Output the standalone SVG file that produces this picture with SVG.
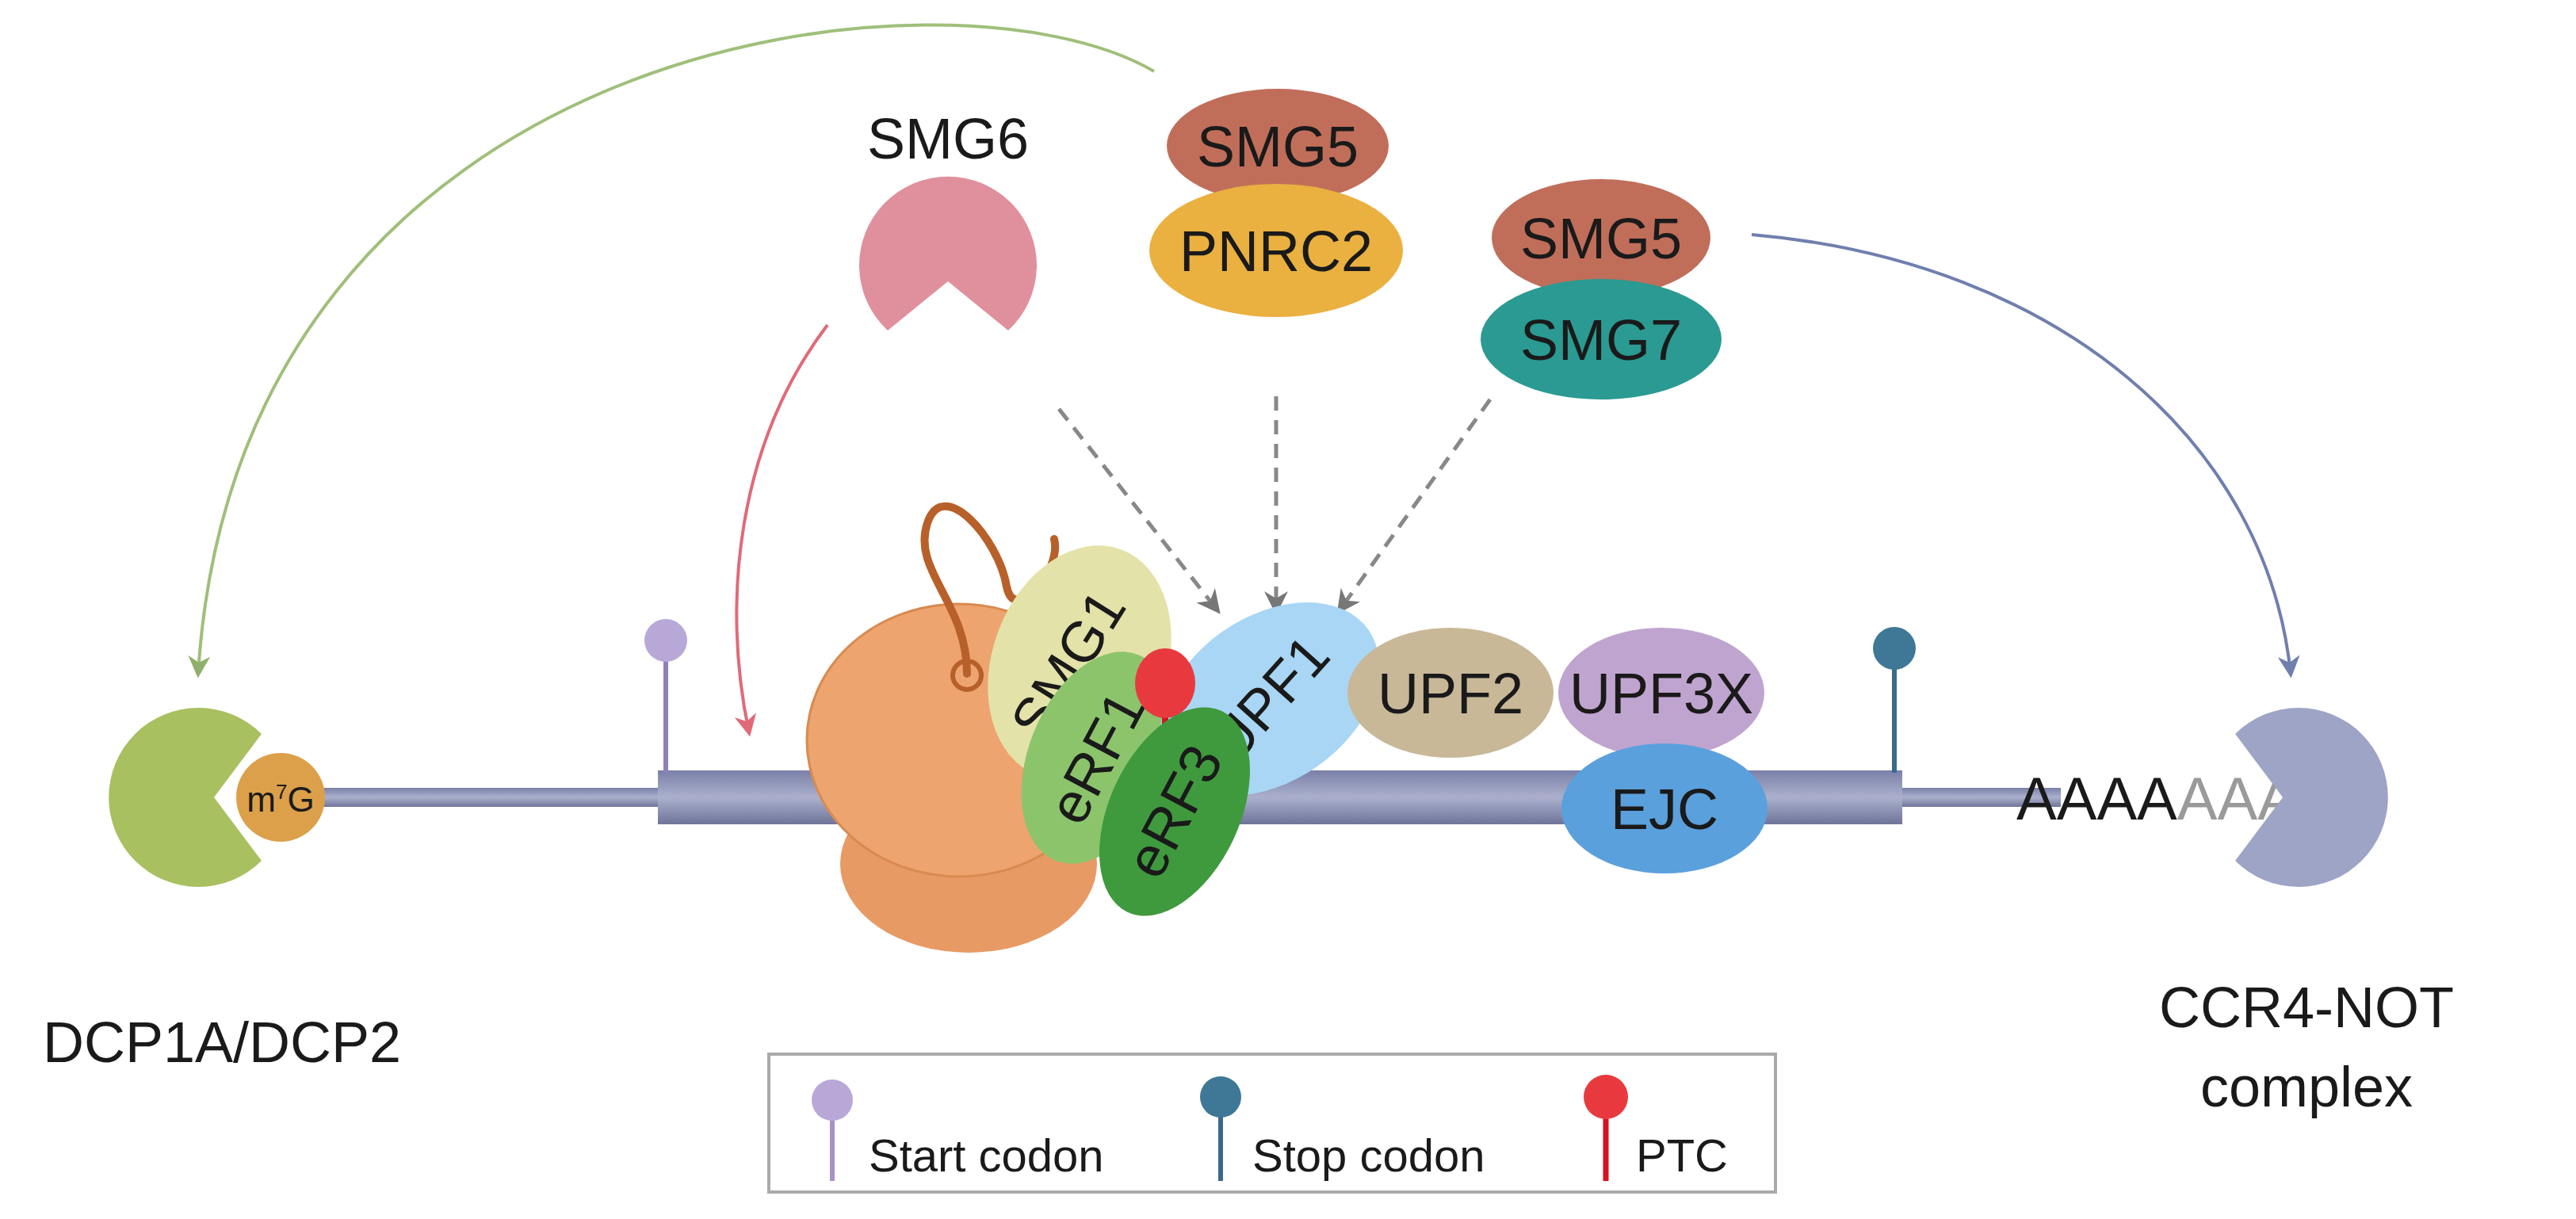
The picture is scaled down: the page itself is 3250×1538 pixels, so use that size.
<svg xmlns="http://www.w3.org/2000/svg" width="3250" height="1538" viewBox="0 0 3250 1538">
<style>
text{font-family:"Liberation Sans",Arial,sans-serif;fill:#1a1a1a;text-anchor:middle}
.lb{font-size:72px}
.dash{fill:none;stroke:#888;stroke-width:5;stroke-dasharray:18 12}
</style>
<defs>
<marker id="ag" viewBox="0 0 10 10" refX="8" refY="5" markerWidth="7" markerHeight="7" orient="auto"><path d="M0,0L10,5L0,10L3,5z" fill="#8fb06a"/></marker>
<marker id="ar" viewBox="0 0 10 10" refX="8" refY="5" markerWidth="7" markerHeight="7" orient="auto"><path d="M0,0L10,5L0,10L3,5z" fill="#e06a78"/></marker>
<marker id="ab" viewBox="0 0 10 10" refX="8" refY="5" markerWidth="7" markerHeight="7" orient="auto"><path d="M0,0L10,5L0,10L3,5z" fill="#6f7fae"/></marker>
<marker id="ad" viewBox="0 0 10 10" refX="8" refY="5" markerWidth="6" markerHeight="6" orient="auto"><path d="M0,0L10,5L0,10L3,5z" fill="#777"/></marker>
<linearGradient id="bar" x1="0" y1="0" x2="0" y2="1"><stop offset="0" stop-color="#7b80a8"/><stop offset="0.5" stop-color="#aab0cc"/><stop offset="1" stop-color="#6f7499"/></linearGradient>
</defs>

<g id="mrna">
<rect x="400" y="994" width="2200" height="24" fill="url(#bar)"/>
<rect x="830" y="972" width="1570" height="68" fill="url(#bar)"/>
</g>

<g id="connectors">
<path d="M1456,90 C1200,-60 300,40 250,850" fill="none" stroke="#9fbf7a" stroke-width="4" marker-end="url(#ag)"/>
<path d="M1044,410 C930,560 910,760 945,924" fill="none" stroke="#e06a78" stroke-width="4" marker-end="url(#ar)"/>
<path d="M2210,296 C2600,330 2860,560 2890,850" fill="none" stroke="#6f7fae" stroke-width="4" marker-end="url(#ab)"/>
<path class="dash" d="M1336,516 L1536,770" marker-end="url(#ad)"/>
<path class="dash" d="M1610,500 L1610,770" marker-end="url(#ad)"/>
<path class="dash" d="M1880,504 L1690,770" marker-end="url(#ad)"/>
</g>

<g id="dcp">
<path d="M330,926 A113,113 0 1 0 330,1086 L270,1006 Z" fill="#a8c060"/>
<circle cx="354" cy="1006" r="56" fill="#dca04a"/>
<text x="354" y="1024" style="font-size:44px">m<tspan dy="-16" style="font-size:26px">7</tspan><tspan dy="16">G</tspan></text>
<text class="lb" x="280" y="1340">DCP1A/DCP2</text>
</g>

<g id="ccr4">
<text x="2544" y="1034" style="font-size:76px;text-anchor:start">AAAA<tspan fill="#9a9a9a">AAA</tspan></text>
<path d="M2820,926 A113,113 0 1 1 2820,1086 L2880,1006 Z" fill="#9ea4c6"/>
<text class="lb" x="2910" y="1296">CCR4-NOT</text>
<text class="lb" x="2910" y="1396">complex</text>
</g>

<g id="start">
<line x1="840" y1="820" x2="840" y2="975" stroke="#9080b8" stroke-width="6"/>
<circle cx="840" cy="808" r="27" fill="#b8a8d8"/>
</g>
<g id="stop">
<line x1="2390" y1="830" x2="2390" y2="975" stroke="#3a6a8a" stroke-width="6"/>
<circle cx="2390" cy="818" r="27" fill="#3e7896"/>
</g>

<g id="ribosome">
<ellipse cx="1222" cy="1090" rx="162" ry="112" fill="#e89a64"/>
<ellipse cx="1210" cy="934" rx="192" ry="172" fill="#eda46e" stroke="#d88a50" stroke-width="3"/>
<path d="M1220,850 C1220,760 1150,720 1170,660 C1190,600 1260,680 1270,740 C1280,790 1340,720 1330,680" fill="none" stroke="#b8602a" stroke-width="10" stroke-linecap="round"/>
<circle cx="1220" cy="852" r="18" fill="none" stroke="#b8602a" stroke-width="6"/>
</g>

<g id="smg1">
<ellipse cx="1362" cy="836" rx="110" ry="152" transform="rotate(20 1362 836)" fill="#e3e2a8"/>
<text class="lb" x="1350" y="862" transform="rotate(-58 1350 840)">SMG1</text>
</g>
<g id="erf1">
<ellipse cx="1384" cy="956" rx="86" ry="140" transform="rotate(22 1384 956)" fill="#8cc46c"/>
<text class="lb" x="1384" y="980" transform="rotate(-62 1384 956)">eRF1</text>
</g>
<g id="upf1">
<line x1="1594" y1="830" x2="1594" y2="880" stroke="#c88a40" stroke-width="5"/>
<ellipse cx="1594" cy="826" rx="20" ry="26" fill="#e0a050"/>
<text x="1594" y="838" style="font-size:30px">P</text>
<ellipse cx="1602" cy="882" rx="152" ry="104" transform="rotate(-35 1602 882)" fill="#a8d6f4"/>
<text class="lb" x="1602" y="906" transform="rotate(-48 1602 882)">UPF1</text>
</g>
<g id="ptc">
<line x1="1470" y1="880" x2="1470" y2="1060" stroke="#d8121e" stroke-width="8"/>
<ellipse cx="1470" cy="862" rx="38" ry="44" fill="#e83a3e"/>
</g>
<g id="erf3">
<ellipse cx="1482" cy="1024" rx="82" ry="140" transform="rotate(25 1482 1024)" fill="#3f9a3e"/>
<text class="lb" x="1482" y="1048" transform="rotate(-62 1482 1024)">eRF3</text>
</g>
<g id="upf2">
<ellipse cx="1830" cy="874" rx="130" ry="82" fill="#c8b898"/>
<text class="lb" x="1830" y="900">UPF2</text>
</g>
<g id="upf3x">
<ellipse cx="2096" cy="874" rx="130" ry="82" fill="#c0a4d0"/>
<text class="lb" x="2096" y="900">UPF3X</text>
</g>
<g id="ejc">
<ellipse cx="2100" cy="1020" rx="130" ry="82" fill="#5aa0dc"/>
<text class="lb" x="2100" y="1046">EJC</text>
</g>

<g id="smg6">
<text class="lb" x="1196" y="200">SMG6</text>
<path d="M1120,417 A112,112 0 1 1 1272,417 L1196,355 Z" fill="#e0909c"/>
</g>
<g id="smg5a">
<ellipse cx="1612" cy="184" rx="140" ry="72" fill="#c06e5a"/>
<text class="lb" x="1612" y="210">SMG5</text>
</g>
<g id="pnrc2">
<ellipse cx="1610" cy="316" rx="160" ry="84" fill="#eab040"/>
<text class="lb" x="1610" y="342">PNRC2</text>
</g>
<g id="smg5b">
<ellipse cx="2020" cy="300" rx="138" ry="74" fill="#c06e5a"/>
<text class="lb" x="2020" y="326">SMG5</text>
</g>
<g id="smg7">
<ellipse cx="2020" cy="428" rx="152" ry="76" fill="#2a9a92"/>
<text class="lb" x="2020" y="454">SMG7</text>
</g>

<g id="legend">
<rect x="970" y="1330" width="1270" height="174" fill="#fff" stroke="#aaa" stroke-width="4"/>
<line x1="1050" y1="1400" x2="1050" y2="1490" stroke="#a890c8" stroke-width="6"/>
<circle cx="1050" cy="1388" r="26" fill="#b8a8d8"/>
<text x="1096" y="1478" style="font-size:58px;text-anchor:start">Start codon</text>
<line x1="1540" y1="1400" x2="1540" y2="1490" stroke="#3a6a8a" stroke-width="6"/>
<circle cx="1540" cy="1384" r="26" fill="#3e7896"/>
<text x="1580" y="1478" style="font-size:58px;text-anchor:start">Stop codon</text>
<line x1="2026" y1="1400" x2="2026" y2="1490" stroke="#d8121e" stroke-width="7"/>
<circle cx="2026" cy="1384" r="28" fill="#e83a3e"/>
<text x="2064" y="1478" style="font-size:58px;text-anchor:start">PTC</text>
</g>
</svg>
